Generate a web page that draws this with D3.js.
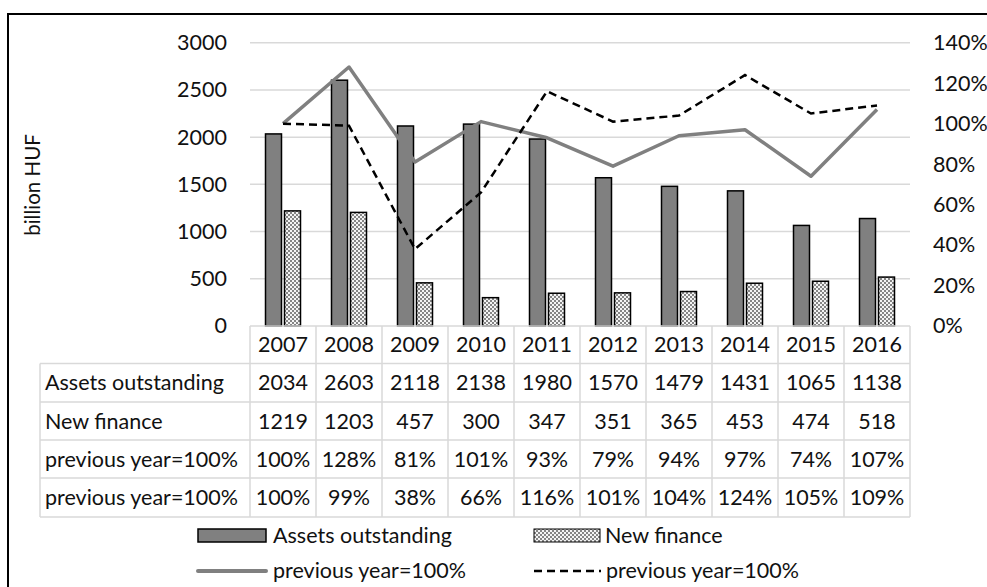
<!DOCTYPE html>
<html>
<head>
<meta charset="utf-8">
<title>Leasing assets and new finance</title>
<script src="https://d3js.org/d3.v7.min.js"></script>
<style>
body { margin: 0; background: #fff; }
svg { font-family: Lato, "Open Sans", sans-serif; }
</style>
</head>
<body>
<div id="chart"></div>
<script>
// data
var years = ["2007", "2008", "2009", "2010", "2011", "2012", "2013", "2014", "2015", "2016"];
var assets = [2034, 2603, 2118, 2138, 1980, 1570, 1479, 1431, 1065, 1138];
var newFinance = [1219, 1203, 457, 300, 347, 351, 365, 453, 474, 518];
var assetsIdx = [1.00, 1.28, 0.81, 1.01, 0.93, 0.79, 0.94, 0.97, 0.74, 1.07];
var financeIdx = [1.00, 0.99, 0.38, 0.66, 1.16, 1.01, 1.04, 1.24, 1.05, 1.09];
var leftTicks = [0, 500, 1000, 1500, 2000, 2500, 3000];
var rightTicks = [0, 0.2, 0.4, 0.6, 0.8, 1.0, 1.2, 1.4];
var rowLabels = ["Assets outstanding", "New finance", "previous year=100%", "previous year=100%"];

var w = 987, h = 587;
var grid = "#d9d9d9", txt = "#111";
var fs = 21.5;

var svg = d3.select("#chart").append("svg")
    .attr("width", w)
    .attr("height", h);

// hatched fill for new finance
var pat = svg.append("defs").append("pattern")
    .attr("id", "dots")
    .attr("patternUnits", "userSpaceOnUse")
    .attr("width", 4).attr("height", 4);
pat.append("rect").attr("width", 4).attr("height", 4).attr("fill", "#858585");
pat.append("rect").attr("x", 0).attr("y", 0).attr("width", 2).attr("height", 2).attr("fill", "#f4f4f4");
pat.append("rect").attr("x", 2).attr("y", 2).attr("width", 2).attr("height", 2).attr("fill", "#f4f4f4");

// outer frame (runs off the picture on the right and bottom)
svg.append("rect")
    .attr("x", 8).attr("y", 14)
    .attr("width", 1000).attr("height", 600)
    .attr("fill", "none").attr("stroke", "#000").attr("stroke-width", 2);

var x = d3.scaleBand().domain(years).range([250, 910]);
var y = d3.scaleLinear().domain([0, 3000]).range([326, 42.7]);
var y2 = d3.scaleLinear().domain([0, 1.4]).range([326, 42.7]);

// gridlines
svg.append("g").selectAll("line")
    .data(leftTicks.slice(1))
    .join("line")
    .attr("x1", 250).attr("x2", 910)
    .attr("y1", function(d){ return y(d); })
    .attr("y2", function(d){ return y(d); })
    .attr("stroke", grid).attr("stroke-width", 1.5);

// axes (labels only)
var left = svg.append("g")
    .attr("transform", "translate(250,0)")
    .call(d3.axisLeft(y).tickValues(leftTicks).tickSize(0).tickPadding(23).tickFormat(d3.format("d")));
var right = svg.append("g")
    .attr("transform", "translate(910,0)")
    .call(d3.axisRight(y2).tickValues(rightTicks).tickSize(0).tickPadding(23).tickFormat(d3.format(".0%")));
[left, right].forEach(function(g){
  g.select(".domain").remove();
  g.selectAll("text").attr("font-size", fs).attr("fill", txt).attr("font-family", "Lato, sans-serif");
});

svg.append("text")
    .attr("transform", "translate(40,185) rotate(-90)")
    .attr("text-anchor", "middle")
    .attr("font-size", 20.5)
    .attr("fill", txt)
    .text("billion HUF");

// bars
var bw = 16, gap = 3;
svg.append("g").selectAll("rect")
    .data(assets)
    .join("rect")
    .attr("x", function(d, i){ return x(years[i]) + x.bandwidth()/2 - gap/2 - bw; })
    .attr("y", function(d){ return y(d); })
    .attr("width", bw)
    .attr("height", function(d){ return y(0) - y(d); })
    .attr("fill", "#808080").attr("stroke", "#000").attr("stroke-width", 1.5);

svg.append("g").selectAll("rect")
    .data(newFinance)
    .join("rect")
    .attr("x", function(d, i){ return x(years[i]) + x.bandwidth()/2 + gap/2; })
    .attr("y", function(d){ return y(d); })
    .attr("width", bw)
    .attr("height", function(d){ return y(0) - y(d); })
    .attr("fill", "url(#dots)").attr("stroke", "#000").attr("stroke-width", 1.5);

// lines
var line = d3.line()
    .x(function(d, i){ return x(years[i]) + x.bandwidth()/2; })
    .y(function(d){ return y2(d); });

svg.append("path")
    .attr("d", line(assetsIdx))
    .attr("fill", "none").attr("stroke", "#808080").attr("stroke-width", 3.5)
    .attr("stroke-linejoin", "round");

svg.append("path")
    .attr("d", line(financeIdx))
    .attr("fill", "none").attr("stroke", "#000").attr("stroke-width", 2.5)
    .attr("stroke-dasharray", "8,5");

// data table
var rowTop = [326, 363.5, 402, 440, 478, 517];
var tbl = svg.append("g");
tbl.append("line").attr("x1", 250).attr("x2", 910).attr("y1", rowTop[0]).attr("y2", rowTop[0])
    .attr("stroke", grid).attr("stroke-width", 1.5);
tbl.selectAll("line.h")
    .data(rowTop.slice(1))
    .join("line")
    .attr("class", "h")
    .attr("x1", 40).attr("x2", 910)
    .attr("y1", function(d){ return d; }).attr("y2", function(d){ return d; })
    .attr("stroke", grid).attr("stroke-width", 1.5);
tbl.append("line").attr("x1", 40).attr("x2", 40).attr("y1", rowTop[1]).attr("y2", rowTop[5])
    .attr("stroke", grid).attr("stroke-width", 1.5);
tbl.selectAll("line.v")
    .data(years.concat(["end"]))
    .join("line")
    .attr("class", "v")
    .attr("x1", function(d, i){ return 250 + i * x.bandwidth(); })
    .attr("x2", function(d, i){ return 250 + i * x.bandwidth(); })
    .attr("y1", rowTop[0]).attr("y2", rowTop[5])
    .attr("stroke", grid).attr("stroke-width", 1.5);

var pct = d3.format(".0%");
var rows = [years, assets, newFinance, assetsIdx.map(pct), financeIdx.map(pct)];
rows.forEach(function(vals, r){
  var cy = (rowTop[r] + rowTop[r + 1]) / 2 + 7.5;
  tbl.append("g").selectAll("text")
      .data(vals)
      .join("text")
      .attr("x", function(d, i){ return x(years[i]) + x.bandwidth()/2; })
      .attr("y", cy)
      .attr("text-anchor", "middle")
      .attr("font-size", fs).attr("fill", txt)
      .text(function(d){ return d; });
  if (r > 0) {
    tbl.append("text")
        .attr("x", 45).attr("y", cy)
        .attr("font-size", fs).attr("fill", txt)
        .text(rowLabels[r - 1]);
  }
});

// legend
var lg = svg.append("g").attr("font-size", fs).attr("fill", txt);
lg.append("rect").attr("x", 198).attr("y", 529).attr("width", 68).attr("height", 13)
    .attr("fill", "#808080").attr("stroke", "#000").attr("stroke-width", 1.5);
lg.append("text").attr("x", 273).attr("y", 543).text("Assets outstanding");
lg.append("rect").attr("x", 534).attr("y", 529).attr("width", 66).attr("height", 13)
    .attr("fill", "url(#dots)").attr("stroke", "#000").attr("stroke-width", 1);
lg.append("text").attr("x", 605).attr("y", 543).text("New finance");
lg.append("line").attr("x1", 198).attr("x2", 266).attr("y1", 571).attr("y2", 571)
    .attr("stroke", "#808080").attr("stroke-width", 4).attr("stroke-linecap", "round");
lg.append("text").attr("x", 273).attr("y", 578).text("previous year=100%");
lg.append("line").attr("x1", 534).attr("x2", 601).attr("y1", 571).attr("y2", 571)
    .attr("stroke", "#000").attr("stroke-width", 2.5).attr("stroke-dasharray", "8,5");
lg.append("text").attr("x", 606).attr("y", 578).text("previous year=100%");
</script>
</body>
</html>
